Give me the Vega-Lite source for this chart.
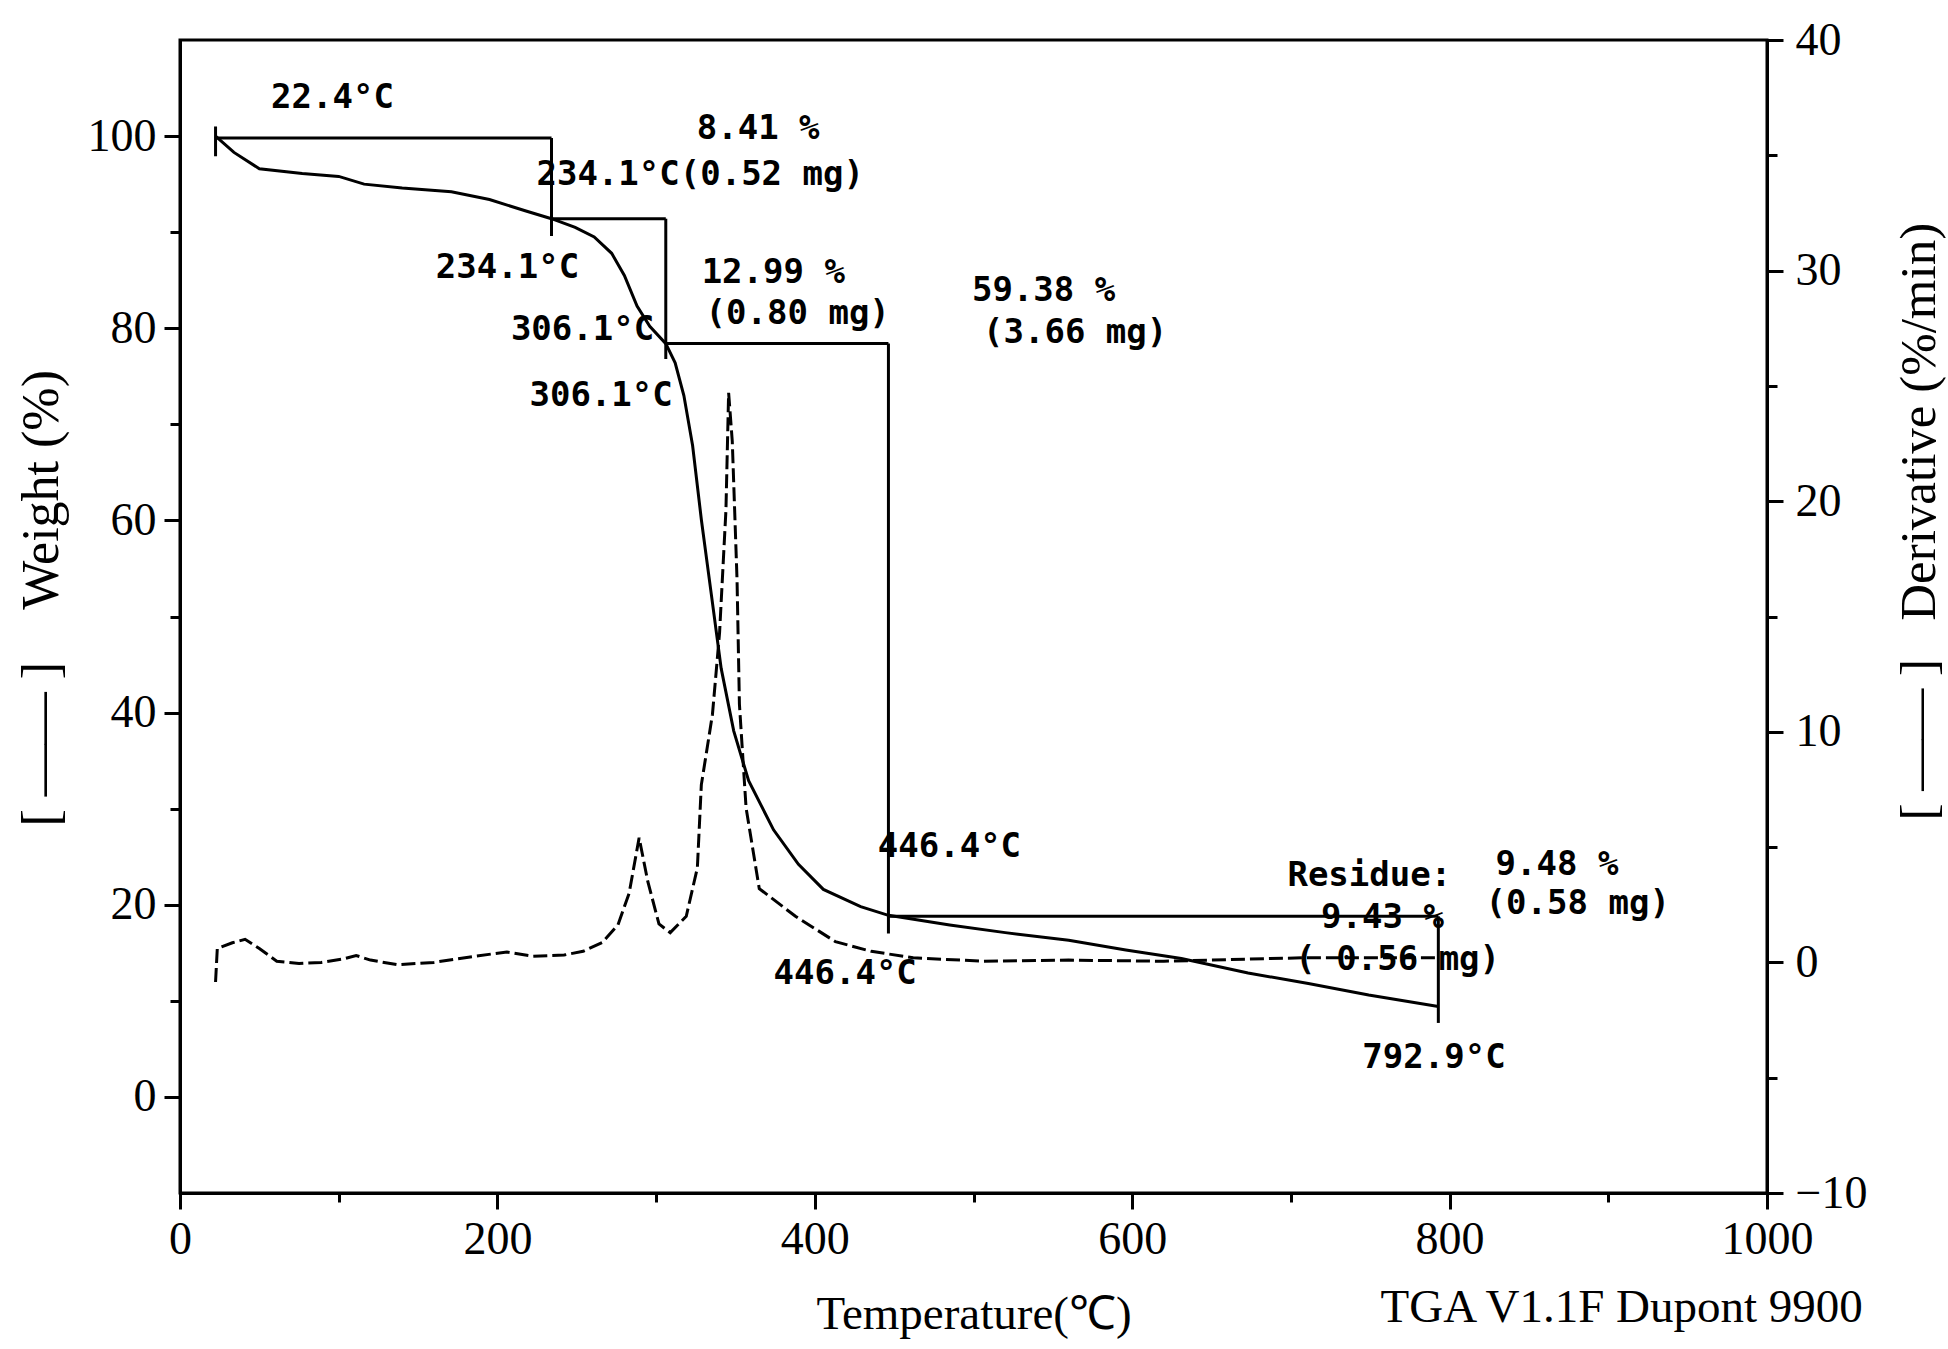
{
  "$schema": "https://vega.github.io/schema/vega-lite/v6.json",
  "width": 1587,
  "height": 1153,
  "autosize": {"type": "none"},
  "padding": {"left": 180, "top": 40, "right": 181, "bottom": 156},
  "background": "white",
  "config": {
    "view": {"stroke": "black", "strokeWidth": 3},
    "axis": {
      "grid": false,
      "domainColor": "black",
      "domainWidth": 3,
      "tickColor": "black",
      "tickWidth": 3,
      "labelColor": "black",
      "titleColor": "black",
      "labelFont": "Liberation Serif",
      "titleFont": "Liberation Serif",
      "labelFontSize": 46,
      "titleFontSize": 52,
      "titleFontWeight": "normal",
      "labelOverlap": false,
      "labelFlush": false
    }
  },
  "datasets": {
    "weight": [
      {"T": 22.4, "W": 100.0}, {"T": 34, "W": 98.3}, {"T": 50, "W": 96.6}, {"T": 77, "W": 96.1},
      {"T": 100, "W": 95.8}, {"T": 116, "W": 95.0}, {"T": 140, "W": 94.6}, {"T": 171, "W": 94.2},
      {"T": 195, "W": 93.4}, {"T": 218, "W": 92.2}, {"T": 234.1, "W": 91.4}, {"T": 249, "W": 90.5},
      {"T": 261, "W": 89.5}, {"T": 272, "W": 87.8}, {"T": 280, "W": 85.5}, {"T": 288, "W": 82.3},
      {"T": 296, "W": 80.2}, {"T": 306.1, "W": 78.4}, {"T": 312, "W": 76.4}, {"T": 317.5, "W": 73.0},
      {"T": 323, "W": 67.8}, {"T": 328.5, "W": 60.1}, {"T": 334.8, "W": 52.3}, {"T": 341, "W": 44.6},
      {"T": 348.9, "W": 38.1}, {"T": 358.3, "W": 32.9}, {"T": 374, "W": 27.8}, {"T": 389.7, "W": 24.2},
      {"T": 405.4, "W": 21.6}, {"T": 428.9, "W": 19.8}, {"T": 446.4, "W": 18.9}, {"T": 485, "W": 17.9},
      {"T": 520, "W": 17.1}, {"T": 560, "W": 16.3}, {"T": 596, "W": 15.3}, {"T": 631, "W": 14.4},
      {"T": 673, "W": 12.9}, {"T": 711, "W": 11.8}, {"T": 749, "W": 10.6}, {"T": 792.9, "W": 9.4}
    ],
    "deriv": [
      {"T": 22.4, "D": -0.85}, {"T": 23.5, "D": 0.6}, {"T": 33, "D": 0.85}, {"T": 41, "D": 1.0},
      {"T": 50, "D": 0.6}, {"T": 61, "D": 0.05}, {"T": 75, "D": -0.05}, {"T": 89, "D": 0.0},
      {"T": 103, "D": 0.15}, {"T": 111, "D": 0.3}, {"T": 120, "D": 0.1}, {"T": 137, "D": -0.1},
      {"T": 160, "D": 0.0}, {"T": 186, "D": 0.27}, {"T": 206, "D": 0.45}, {"T": 222, "D": 0.27},
      {"T": 242, "D": 0.32}, {"T": 254, "D": 0.48}, {"T": 266, "D": 0.86}, {"T": 276, "D": 1.63},
      {"T": 283, "D": 3.0}, {"T": 289.3, "D": 5.4}, {"T": 294.8, "D": 3.5}, {"T": 301.8, "D": 1.67},
      {"T": 308.9, "D": 1.29}, {"T": 319, "D": 2.0}, {"T": 326, "D": 4.1}, {"T": 328.5, "D": 7.7},
      {"T": 335.5, "D": 10.75}, {"T": 340, "D": 14.3}, {"T": 344, "D": 19.6}, {"T": 345.7, "D": 24.7},
      {"T": 348, "D": 22.6}, {"T": 351, "D": 16.6}, {"T": 352.5, "D": 11.2}, {"T": 356.7, "D": 6.7},
      {"T": 365, "D": 3.2}, {"T": 387.8, "D": 2.0}, {"T": 413, "D": 0.9}, {"T": 435.6, "D": 0.48},
      {"T": 462, "D": 0.2}, {"T": 506, "D": 0.05}, {"T": 560, "D": 0.1}, {"T": 620, "D": 0.05},
      {"T": 707, "D": 0.2}, {"T": 792.9, "D": 0.2}
    ],
    "steps": [
      {"T": 22.4, "T2": 22.4, "W": 101.0, "W2": 97.9},
      {"T": 22.4, "T2": 234.1, "W": 99.8, "W2": 99.8},
      {"T": 234.1, "T2": 234.1, "W": 99.8, "W2": 89.6},
      {"T": 234.1, "T2": 306.1, "W": 91.4, "W2": 91.4},
      {"T": 306.1, "T2": 306.1, "W": 91.4, "W2": 76.8},
      {"T": 306.1, "T2": 446.4, "W": 78.4, "W2": 78.4},
      {"T": 446.4, "T2": 446.4, "W": 78.4, "W2": 17.0},
      {"T": 446.4, "T2": 792.9, "W": 18.8, "W2": 18.8},
      {"T": 792.9, "T2": 792.9, "W": 18.8, "W2": 7.7}
    ],
    "notes": [
      {"label": "22.4°C", "T": 57.4, "W": 104.0},
      {"label": "8.41 %", "T": 325.6, "W": 100.7},
      {"label": "234.1°C(0.52 mg)", "T": 224.6, "W": 96.0},
      {"label": "234.1°C", "T": 161.2, "W": 86.3},
      {"label": "12.99 %", "T": 328.7, "W": 85.8},
      {"label": "(0.80 mg)", "T": 331.2, "W": 81.5},
      {"label": "59.38 %", "T": 499, "W": 83.9},
      {"label": "(3.66 mg)", "T": 506, "W": 79.5},
      {"label": "306.1°C", "T": 208.5, "W": 79.8},
      {"label": "306.1°C", "T": 220.2, "W": 72.9},
      {"label": "446.4°C", "T": 439.7, "W": 26.0},
      {"label": "446.4°C", "T": 374, "W": 12.8},
      {"label": "Residue:", "T": 697.8, "W": 23.0},
      {"label": "9.48 %", "T": 829, "W": 24.1},
      {"label": "(0.58 mg)", "T": 822.7, "W": 20.1},
      {"label": "9.43 %", "T": 719, "W": 18.6},
      {"label": "( 0.56 mg)", "T": 702.8, "W": 14.3},
      {"label": "792.9°C", "T": 745, "W": 4.0}
    ],
    "footer": [
      {"label": "TGA V1.1F Dupont 9900", "T": 756.5, "W": -23.4}
    ]
  },
  "encoding": {
    "x": {
      "field": "T",
      "type": "quantitative",
      "scale": {"domain": [0, 1000], "nice": false, "zero": false},
      "axis": {
        "values": [0, 100, 200, 300, 400, 500, 600, 700, 800, 900, 1000],
        "labelExpr": "datum.value % 200 === 0 ? format(datum.value, 'd') : ''",
        "tickSize": {"condition": {"test": "datum.value % 200 === 0", "value": 16}, "value": 9},
        "labelPadding": 8,
        "title": "Temperature(℃)",
        "titleFontSize": 47,
        "titleY": 135,
        "titleBaseline": "alphabetic"
      }
    }
  },
  "layer": [
    {
      "layer": [
        {
          "data": {"name": "steps"},
          "mark": {"type": "rule", "color": "black", "strokeWidth": 3},
          "encoding": {
            "x2": {"field": "T2"},
            "y": {
              "field": "W",
              "type": "quantitative",
              "scale": {"domain": [-10, 110], "nice": false, "zero": false},
              "axis": {
                "orient": "left",
                "values": [0, 10, 20, 30, 40, 50, 60, 70, 80, 90, 100],
                "labelExpr": "datum.value % 20 === 0 ? datum.label : ''",
                "tickSize": {"condition": {"test": "datum.value % 20 === 0", "value": 16}, "value": 10},
                "labelPadding": 8,
                "title": "[ —— ]\u00a0\u00a0\u00a0\u00a0Weight (%)",
                "titleAngle": 270,
                "titleAlign": "left",
                "titleBaseline": "middle",
                "titleX": -139,
                "titleY": 786
              }
            },
            "y2": {"field": "W2"}
          }
        },
        {
          "data": {"name": "weight"},
          "mark": {"type": "line", "color": "black", "strokeWidth": 3},
          "encoding": {
            "y": {"field": "W", "type": "quantitative"}
          }
        },
        {
          "data": {"name": "notes"},
          "mark": {"type": "text", "font": "DejaVu Sans Mono", "fontWeight": "bold", "fontSize": 34, "align": "left", "baseline": "middle", "color": "black"},
          "encoding": {
            "y": {"field": "W", "type": "quantitative"},
            "text": {"field": "label"}
          }
        },
        {
          "data": {"name": "footer"},
          "mark": {"type": "text", "font": "Liberation Serif", "fontSize": 47, "align": "left", "baseline": "alphabetic", "color": "black"},
          "encoding": {
            "y": {"field": "W", "type": "quantitative"},
            "text": {"field": "label"}
          }
        }
      ]
    },
    {
      "data": {"name": "deriv"},
      "mark": {"type": "line", "color": "black", "strokeWidth": 3, "strokeDash": [14, 5]},
      "encoding": {
        "y": {
          "field": "D",
          "type": "quantitative",
          "scale": {"domain": [-10, 40], "nice": false, "zero": false},
          "axis": {
            "orient": "right",
            "values": [-10, -5, 0, 5, 10, 15, 20, 25, 30, 35, 40],
            "labelExpr": "datum.value % 10 === 0 ? datum.label : ''",
            "tickSize": {"condition": {"test": "datum.value % 10 === 0", "value": 16}, "value": 10},
            "labelPadding": 12,
            "title": "[ —— ]\u00a0\u00a0\u00a0Derivative (%/min)",
            "titleFontSize": 51,
            "titleAngle": 270,
            "titleAlign": "left",
            "titleBaseline": "middle",
            "titleX": 152,
            "titleY": 780
          }
        },
        "order": {"value": null}
      }
    }
  ],
  "resolve": {"scale": {"y": "independent"}}
}
